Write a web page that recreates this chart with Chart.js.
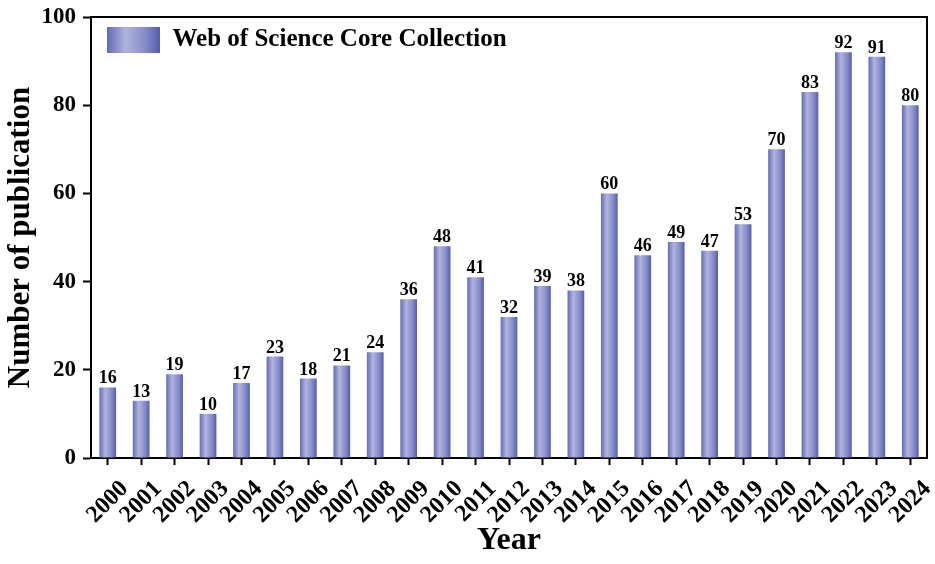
<!DOCTYPE html>
<html>
<head>
<meta charset="utf-8">
<script src="https://cdn.jsdelivr.net/npm/chart.js@4.4.1/dist/chart.umd.min.js"></script>
<style>
  html, body { margin: 0; padding: 0; background: #fff; }
  #wrap { width: 935px; height: 564px; position: relative; }
</style>
</head>
<body>
<div id="wrap"><canvas id="myChart"></canvas></div>
<script>
// Dados do grafico
const years = ['2000', '2001', '2002', '2003', '2004', '2005', '2006', '2007', '2008', '2009',
    '2010', '2011', '2012', '2013', '2014', '2015', '2016', '2017', '2018', '2019',
    '2020', '2021', '2022', '2023', '2024'];
const publications = [16, 13, 19, 10, 17, 23, 18, 21, 24, 36,
    48, 41, 32, 39, 38, 60, 46, 49, 47, 53,
    70, 83, 92, 91, 80];
const yTicks = [0, 20, 40, 60, 80, 100];
const seriesName = 'Web of Science Core Collection';

const serif = '"Liberation Serif", "Times New Roman", serif';

// Gradiente horizontal, do lado esquerdo ao direito da barra
function barGradient(c, x0, x1) {
    const g = c.createLinearGradient(x0, 0, x1, 0);
    g.addColorStop(0, '#646bb5');
    g.addColorStop(0.35, '#b0b4de');
    g.addColorStop(0.75, '#8288c6');
    g.addColorStop(1, '#555cab');
    return g;
}

// Cor de cada barra calculada a partir da escala x
function barColor(context) {
    const chart = context.chart;
    const scale = chart.scales.x;
    if (context.dataIndex === undefined || !scale || !chart.chartArea) return '#8a90c8';
    const cx = scale.getPixelForValue(context.dataIndex);
    const half = scale.width / years.length * 0.5 / 2;
    return barGradient(chart.ctx, cx - half, cx + half);
}

// Numeros em cima das barras
const valueLabels = {
    id: 'valueLabels',
    afterDatasetsDraw(chart) {
        const c = chart.ctx;
        const meta = chart.getDatasetMeta(0);
        c.save();
        c.font = 'bold 18px ' + serif;
        c.fillStyle = '#000';
        c.textAlign = 'center';
        c.textBaseline = 'alphabetic';
        meta.data.forEach((bar, i) => {
            c.fillText(String(publications[i]), bar.x, bar.y - 4);
        });
        c.restore();
    }
};

// Moldura (linha de cima e da direita)
const frame = {
    id: 'frame',
    afterDraw(chart) {
        const a = chart.chartArea;
        const c = chart.ctx;
        c.save();
        c.strokeStyle = '#000';
        c.lineWidth = 2;
        c.beginPath();
        c.moveTo(a.left, a.top);
        c.lineTo(a.right, a.top);
        c.lineTo(a.right, a.bottom);
        c.stroke();
        c.restore();
    }
};

// Legenda dentro da area do grafico, com o mesmo gradiente
const legendPlace = {
    id: 'legendPlace',
    beforeDraw(chart) {
        const lg = chart.legend;
        const a = chart.chartArea;
        if (!lg || !a || !lg.legendItems || !lg.legendItems.length) return;
        lg.top = a.top;
        lg.left = a.left + 6;
        const bx = lg.left + 10;
        lg.legendItems[0].fillStyle = barGradient(chart.ctx, bx, bx + 53);
    }
};

const ctx = document.getElementById('myChart').getContext('2d');

new Chart(ctx, {
    type: 'bar',
    data: {
        labels: years,
        datasets: [{
            label: seriesName,
            data: publications,
            backgroundColor: barColor,
            borderWidth: 0,
            categoryPercentage: 1,
            barPercentage: 0.5
        }]
    },
    options: {
        responsive: true,
        maintainAspectRatio: false,
        animation: false,
        layout: { padding: { top: 17, right: 8, left: 0, bottom: 2 } },
        plugins: {
            legend: {
                position: 'chartArea',
                align: 'start',
                labels: {
                    boxWidth: 53,
                    boxHeight: 26,
                    padding: 10,
                    color: '#000',
                    font: { family: serif, size: 25, weight: 'bold' },
                    generateLabels: (chart) => [{
                        text: seriesName,
                        fillStyle: '#8a90c8',
                        strokeStyle: 'rgba(0,0,0,0)',
                        lineWidth: 0,
                        datasetIndex: 0
                    }]
                }
            },
            tooltip: { enabled: false }
        },
        scales: {
            y: {
                min: 0,
                max: 100,
                afterBuildTicks: (axis) => { axis.ticks = yTicks.map(v => ({ value: v })); },
                afterFit: (scale) => {
                    scale.width = 91;
                    scale.paddingTop = 0;
                    scale.paddingBottom = 0;
                },
                ticks: {
                    color: '#000',
                    padding: 7,
                    font: { family: serif, size: 23, weight: 'bold' }
                },
                grid: {
                    display: true,
                    drawOnChartArea: false,
                    drawTicks: true,
                    tickLength: 8,
                    tickWidth: 2,
                    tickColor: '#000'
                },
                border: { display: true, color: '#000', width: 2 },
                title: {
                    display: true,
                    text: 'Number of publication',
                    color: '#000',
                    padding: { top: 2, bottom: 0 },
                    font: { family: serif, size: 31, weight: 'bold' }
                }
            },
            x: {
                offset: true,
                afterFit: (scale) => {
                    scale.height = 104;
                    scale.paddingLeft = 0;
                    scale.paddingRight = 0;
                },
                ticks: {
                    color: '#000',
                    minRotation: 45,
                    maxRotation: 45,
                    autoSkip: false,
                    padding: 10,
                    labelOffset: 17,
                    font: { family: serif, size: 24, weight: 'bold' }
                },
                grid: {
                    display: true,
                    offset: false,
                    drawOnChartArea: false,
                    drawTicks: true,
                    tickLength: 7,
                    tickWidth: 2,
                    tickColor: '#000'
                },
                border: { display: true, color: '#000', width: 2 },
                title: {
                    display: true,
                    text: 'Year',
                    color: '#000',
                    padding: { top: 0, bottom: 5 },
                    font: { family: serif, size: 32, weight: 'bold', lineHeight: 1 }
                }
            }
        }
    },
    plugins: [valueLabels, frame, legendPlace]
});
</script>
</body>
</html>
